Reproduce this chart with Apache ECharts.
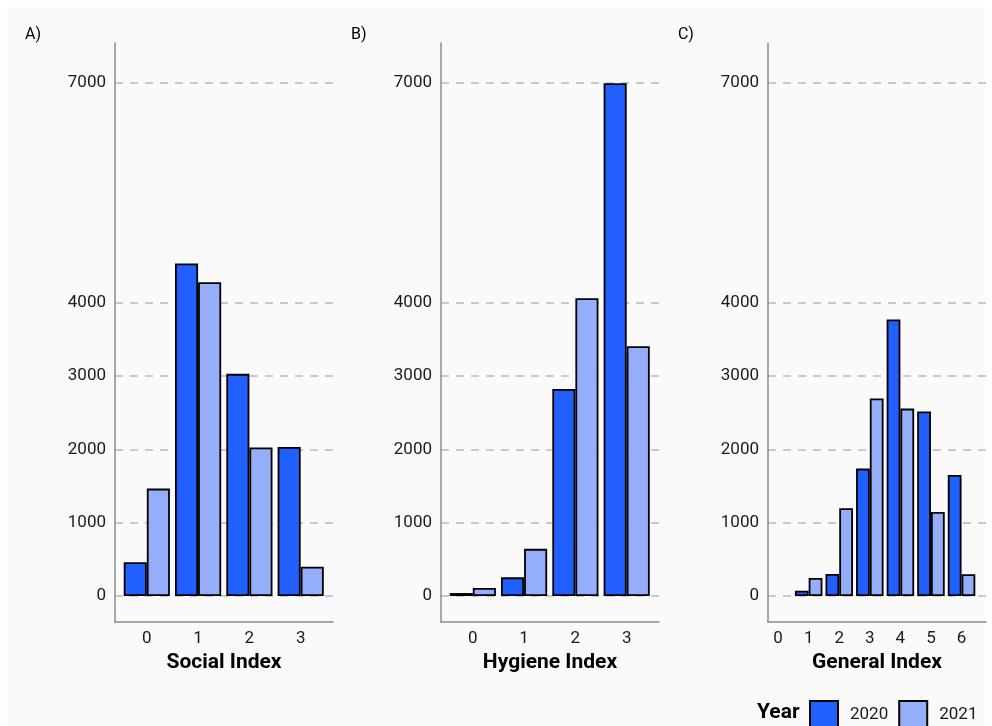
<!DOCTYPE html>
<html>
<head>
<meta charset="utf-8">
<script src="https://cdn.jsdelivr.net/npm/echarts@6/dist/echarts.min.js"></script>
<style>
html,body{margin:0;padding:0;background:#ffffff;}
#chart{width:992px;height:726px;}
</style>
</head>
<body>
<div id="chart"></div>
<script>
// ---- data ----
const years = ['2020', '2021'];
const yTicks = [0, 1000, 2000, 3000, 4000, 7000];

const socialCats = [0, 1, 2, 3];
const social2020 = [460, 4537, 3031, 2034];
const social2021 = [1465, 4282, 2025, 400];

const hygieneCats = [0, 1, 2, 3];
const hygiene2020 = [40, 254, 2825, 6996];
const hygiene2021 = [110, 643, 4063, 3409];

const generalTicks = [0, 1, 2, 3, 4, 5, 6];
const generalCats = [1, 2, 3, 4, 5, 6];
const general2020 = [73, 300, 1738, 3773, 2517, 1652];
const general2021 = [246, 1197, 2694, 2557, 1147, 296];

const panelTitles = ['Social Index', 'Hygiene Index', 'General Index'];
const panelLabels = ['A)', 'B)', 'C)'];

// ---- style ----
const col2020 = '#2160FF';
const col2021 = '#94AEFA';
const FONT = 'Roboto';

const panels = [
  { cats: socialCats, ticks: socialCats, a: social2020, b: social2021, xmin: -0.62, xmax: 3.63, left: 115 },
  { cats: hygieneCats, ticks: hygieneCats, a: hygiene2020, b: hygiene2021, xmin: -0.62, xmax: 3.63, left: 441 },
  { cats: generalCats, ticks: generalTicks, a: general2020, b: general2021, xmin: -0.33, xmax: 6.8, left: 768 }
];

const grids = [], xAxes = [], yAxes = [], series = [], graphics = [];
graphics.push({ type: 'rect', z: -10, shape: { x: 7, y: 7, width: 978, height: 719 }, style: { fill: '#fafafa' } });

panels.forEach((p, i) => {
  grids.push({ left: p.left, top: 43, width: 218, height: 579 });
  xAxes.push({
    type: 'value', gridIndex: i, min: p.xmin, max: p.xmax,
    name: panelTitles[i], nameLocation: 'middle', nameGap: 26,
    nameTextStyle: { fontFamily: FONT, fontWeight: 'bold', fontSize: 21, color: '#000' },
    axisLine: { show: true, onZero: false, lineStyle: { color: '#8c8c8c', width: 1.5 } },
    axisTick: { show: false, customValues: p.ticks },
    axisLabel: { customValues: p.ticks, formatter: v => String(v), fontFamily: FONT, fontSize: 17, color: '#1a1a1a', margin: 8 },
    splitLine: { show: false }
  });
  yAxes.push({
    type: 'value', gridIndex: i, min: -355, max: 7545,
    axisLine: { show: true, onZero: false, lineStyle: { color: '#8c8c8c', width: 1.5 } },
    axisTick: { show: false, customValues: yTicks },
    axisLabel: { customValues: yTicks, formatter: v => String(v), fontFamily: FONT, fontSize: 17, color: '#1a1a1a', margin: 9 },
    splitLine: { show: true, lineStyle: { color: '#b8b8b8', width: 1.5, type: [8, 7] } }
  });
  [[p.a, col2020, years[0]], [p.b, col2021, years[1]]].forEach(([vals, c, nm]) => {
    series.push({
      type: 'bar', name: nm, xAxisIndex: i, yAxisIndex: i,
      data: p.cats.map((x, k) => [x, vals[k]]),
      barWidth: '45%', barGap: '0%',
      itemStyle: { color: c, borderColor: '#000', borderWidth: 1.8 },
      emphasis: { disabled: true }, animation: false
    });
  });
  graphics.push({
    type: 'text', left: p.left - 90, top: 27,
    style: { text: panelLabels[i], fontFamily: FONT, fontSize: 16, fill: '#000' }
  });
});

graphics.push({
  type: 'text', left: 757, top: 702,
  style: { text: 'Year', fontFamily: FONT, fontSize: 21, fontWeight: 'bold', fill: '#000' }
});

const chart = echarts.init(document.getElementById('chart'), null, { renderer: 'canvas' });
chart.setOption({
  animation: false,
  backgroundColor: 'transparent',
  grid: grids,
  xAxis: xAxes,
  yAxis: yAxes,
  series: series,
  legend: {
    data: years, left: 809, top: 700, padding: 0, itemWidth: 28, itemHeight: 28, itemGap: 10,
    icon: 'rect',
    textStyle: { fontFamily: FONT, fontSize: 17, color: '#1a1a1a', padding: [0, 0, 0, 7] },
    selectedMode: false
  },
  graphic: graphics
});
</script>
</body>
</html>
